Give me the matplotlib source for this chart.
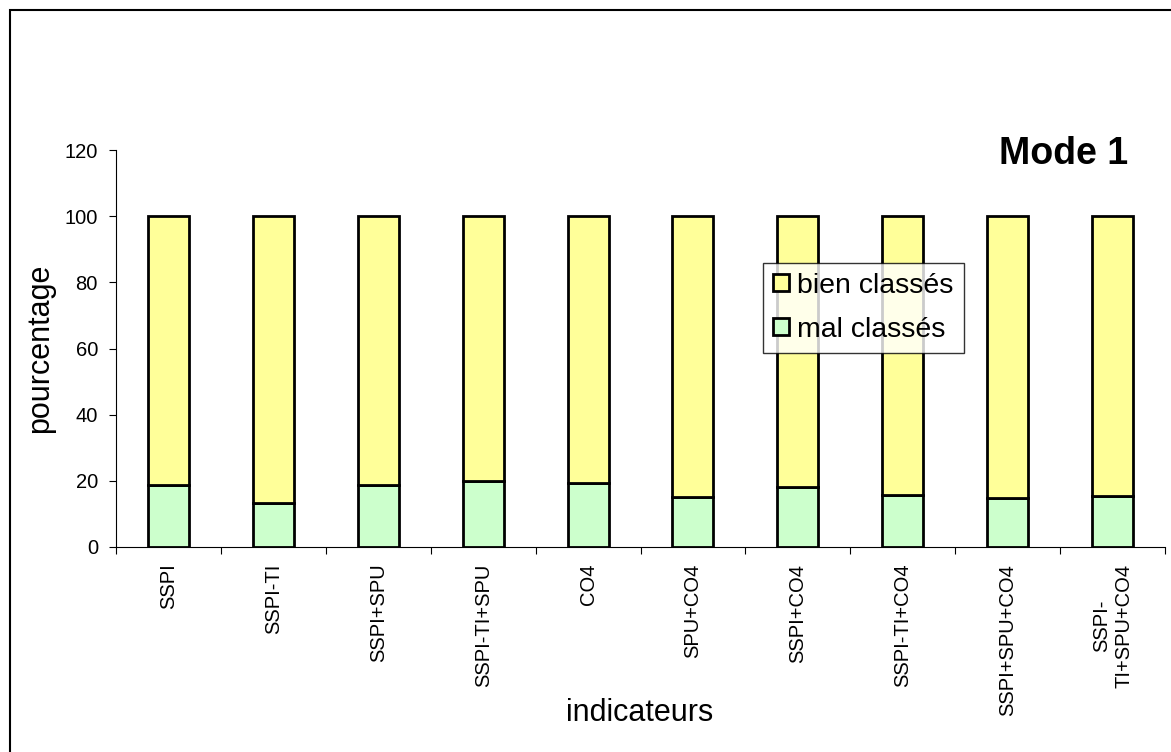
import matplotlib.pyplot as plt
import numpy as np
from matplotlib.patches import Rectangle

plt.rcParams['font.family'] = ['Liberation Sans', 'DejaVu Sans']

# donnees
indicateurs = ['SSPI', 'SSPI-TI', 'SSPI+SPU', 'SSPI-TI+SPU', 'CO4', 'SPU+CO4',
               'SSPI+CO4', 'SSPI-TI+CO4', 'SSPI+SPU+CO4', 'SSPI-\nTI+SPU+CO4']
mal_classes = [18.6, 13.3, 18.7, 20.0, 19.3, 15.0, 18.0, 15.7, 14.7, 15.3]
bien_classes = [100 - v for v in mal_classes]

fig = plt.figure(figsize=(11.71, 7.52), dpi=100)
ax = fig.add_axes([116 / 1171, 1 - 547 / 752, (1165 - 116) / 1171, (547 - 150) / 752])

# cadre exterieur
fig.patches.append(Rectangle((10 / 1171, -0.1), 1.2, 1 - 10 / 752 + 0.1, transform=fig.transFigure,
                             fill=False, edgecolor='black', linewidth=1.5))

x = np.arange(len(indicateurs))
ax.bar(x, mal_classes, width=0.39, color='#ccffcc', edgecolor='black', linewidth=2,
       label='mal classés')
ax.bar(x, bien_classes, width=0.39, bottom=mal_classes, color='#ffff99', edgecolor='black',
       linewidth=2, label='bien classés')

ax.set_xlim(-0.5, len(indicateurs) - 0.5)
ax.set_ylim(0, 120)
ax.set_yticks(range(0, 121, 20))
ax.tick_params(axis='y', labelsize=14.5, direction='out', length=5, width=0.8, pad=8)
ax.set_xticks(x)
ax.set_xticklabels(indicateurs, rotation=90, fontsize=14.5, va='top', ha='center',
                   multialignment='center')
ax.tick_params(axis='x', which='major', length=0, pad=12)
ax.set_xticks(np.arange(-0.5, len(indicateurs)), minor=True)
ax.tick_params(axis='x', which='minor', direction='out', length=5, width=0.8)

for s in ['top', 'right']:
    ax.spines[s].set_visible(False)
ax.spines['left'].set_linewidth(0.8)
ax.spines['bottom'].set_linewidth(0.8)

ax.set_ylabel('pourcentage', fontsize=22, labelpad=7)
fig.text(640 / 1171, 1 - 713 / 752, 'indicateurs', fontsize=22, ha='center', va='center')

ax.text(0.965, 0.99, 'Mode 1', transform=ax.transAxes, fontsize=27, fontweight='bold',
        ha='right', va='center')

handles, labels = ax.get_legend_handles_labels()
leg = ax.legend(handles[::-1], labels[::-1], loc='upper left',
                bbox_to_anchor=((763 - 116) / 1049, (547 - 263) / 397),
                fontsize=20.5, frameon=True, fancybox=False, edgecolor='black',
                handlelength=0.55, handleheight=0.55, handletextpad=0.3,
                labelspacing=0.62, borderpad=0.35, borderaxespad=0)
leg.get_frame().set_linewidth(1)

plt.savefig('out.png', dpi=100)
